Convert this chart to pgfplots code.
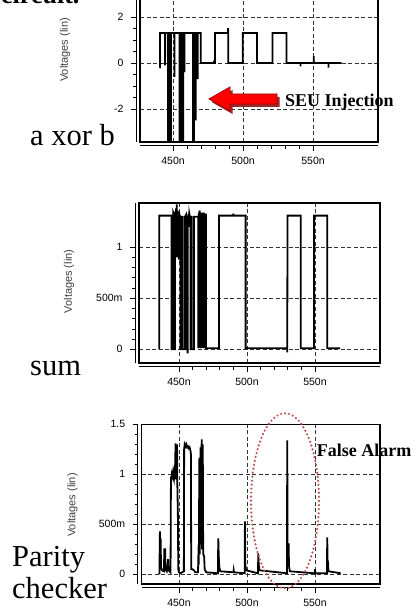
\documentclass[border=0pt]{standalone}
\usepackage{fontspec}
\setmainfont{Liberation Serif}
\setsansfont{Liberation Sans}
\usepackage{pgfplots}
\pgfplotsset{compat=1.18}
\definecolor{ellred}{RGB}{192,80,77}

\pgfplotsset{
 frameax/.style={scale only axis, anchor=south west,
   axis line style={line width=1.2pt},
   grid=major, major grid style={dash pattern=on 4pt off 2.5pt, black!80, line width=0.75pt},
   major tick length=0pt, minor tick length=0pt, xticklabels={}, yticklabels={},
   xtick={450,500,550}},
 stripax/.style={scale only axis, anchor=south west,
   axis x line*=bottom, axis y line*=left,
   axis line style={-, line width=1pt},
   axis x line shift=4pt, axis y line shift=4pt,
   tick align=outside, major tick length=5pt, minor tick length=3pt,
   tick style={black, line width=0.8pt},
   tick label style={font=\fontsize{10.5}{12}\selectfont\sffamily},
   yticklabel style={xshift=-4pt}, xticklabel style={yshift=-3pt},
   xtick={450,500,550}, xticklabels={450n,500n,550n}, minor x tick num=4},
 wave/.style={black, line width=1.8pt, mark=none}
}

\begin{document}
\begin{tikzpicture}[x=1pt,y=1pt]
% ---------------- Panel 1: a xor b
\begin{axis}[frameax, at={(140pt,467pt)}, width=238pt, height=147pt,
  xmin=426.4, xmax=596.4, ymin=-3.435, ymax=2.957, ytick={-2,0,2}]
\addplot[wave] coordinates {
(440.5,-0.2) (440.7,-0.2) (440.7,1.3) (444.3,1.3) (444.3,-0.1) (444.4,1.3)
(446.4,1.3) (446.4,-3.6) (446.9,-3.6) (446.9,1.3) (447.4,1.3) (447.4,-2.4) (447.5,1.3)
(448.3,1.3) (448.3,-3.6) (448.6,-3.6) (448.6,1.3) (451,1.3) (451,-0.6) (451.1,1.3)
(454.6,1.3) (454.6,-3.6) (455.6,-3.6) (455.6,1.3) (456.6,1.3) (456.6,-3.6) (457.3,-3.6) (457.3,1.3)
(458.1,1.3) (458.1,-0.4) (458.2,1.3) (464.2,1.3) (464.2,-3.6) (465.0,-3.6) (465.0,1.3)
(466.2,1.3) (466.2,-2.5) (466.3,1.3) (467.6,1.3) (467.6,-0.7) (467.7,1.3)
(469.8,1.3) (469.8,0) (479.3,0) (479.3,0.1) (479.4,0) (480,0) (480,1.3)
(489.3,1.3) (489.3,1.52) (489.5,1.3) (489.5,0) (499.8,0) (499.8,1.3) (510,1.3) (510,0)
(521,0) (521,1.3) (531,1.3) (531,0) (541,0) (541,-0.15) (541.1,0) (550.5,0) (550.5,0.3)
(550.6,0) (561,0) (561,-0.2) (561.1,0) (570.5,0)
};
\end{axis}
\begin{axis}[stripax, at={(140pt,467pt)}, width=238pt, height=147pt,
  xmin=426.4, xmax=596.4, ymin=-3.435, ymax=2.957, ytick={-2,0,2}, yticklabels={-2,0,2},
  minor y tick num=3]
\end{axis}

% ---------------- Panel 2: sum
\begin{axis}[frameax, at={(139pt,246pt)}, width=241pt, height=160pt,
  xmin=420.6, xmax=597.8, ymin=-0.134, ymax=1.434, ytick={0,0.5,1}]
\addplot[wave] coordinates {
(435.5,0) (435.5,1.31) (444.6,1.31) (444.6,0) (445.8,0) (445.8,1.34) (446.6,1.31) (446.6,0)
(447.0,0) (447.0,1.32) (447.4,1.35) (447.6,0.9) (447.8,1.38) (448.1,1.0) (448.3,1.42)
(448.5,0.9) (448.7,1.33) (448.9,1.0) (449.1,1.36) (449.3,0.92) (449.5,1.3) (449.7,1.05)
(449.9,1.35) (450.1,0.88) (450.3,1.3) (450.5,1.1) (450.8,1.3) (451.2,1.28) (451.2,0)
(451.5,0) (451.5,1.3) (452.7,1.3) (452.7,0) (454.4,0) (454.4,1.3) (455.2,1.32) (455.2,0)
(455.5,0) (455.5,1.3) (456.2,1.3) (456.2,-0.03) (456.5,-0.03) (456.5,1.25) (457,1.33)
(457.3,1.2) (457.6,1.33) (458,1.3) (458.4,1.3) (458.4,0) (458.7,0) (458.7,1.3)
(459.3,1.3) (459.3,0) (461,0) (461,1.3) (464.2,1.3) (464.2,0.02) (464.5,0.02) (464.5,1.33)
(464.8,1.33) (464.8,0.02) (465.1,0.02) (465.1,1.36) (465.4,1.33) (465.4,0.02) (465.7,0.02)
(465.7,1.33) (466.0,1.33) (466.0,0.02) (466.3,0.02) (466.3,1.32) (466.6,1.32) (466.6,0.02)
(466.9,0.02) (466.9,1.33) (467.2,1.33) (467.2,0.02) (467.5,0.02) (467.5,1.31) (467.8,1.31)
(467.8,0.02) (468.1,0.02) (468.1,1.33) (468.4,1.33) (468.4,0.02) (468.7,0.02) (468.7,1.32)
(469.0,1.32) (469.0,0.02) (469.3,0.02) (469.3,1.32) (469.9,1.32) (469.9,0.01)
(479.4,0.01) (479.4,1.31) (490,1.31) (490,1.33) (490.2,1.31) (499,1.31) (499,0.01)
(529.6,0.01) (529.6,-0.03) (529.8,1.31) (539.5,1.31) (539.5,0.01) (549.3,0.01)
(549.3,1.31) (559,1.31) (559,0.01) (568.4,0.01)
};
\end{axis}
\begin{axis}[stripax, at={(139pt,246pt)}, width=241pt, height=160pt,
  xmin=420.6, xmax=597.8, ymin=-0.134, ymax=1.434, ytick={0,0.5,1}, yticklabels={0,500m,1},
  minor y tick num=4]
\end{axis}

% ---------------- Panel 3: Parity checker
\begin{axis}[frameax, at={(141.7pt,25pt)}, width=238.3pt, height=159.7pt,
  xmin=422.6, xmax=597.8, ymin=-0.097, ymax=1.5, ytick={0,0.5,1,1.5}]
\addplot[wave] coordinates {
(435.6,0.0) (436.0,0.43) (436.2,0.05) (436.5,0.36) (436.8,0.08) (437.5,0.04) (439.0,0.03)
(439.2,0.26) (439.4,0.06) (439.8,0.26) (440.0,0.05) (441,0.03) (442.0,0.15) (442.3,0.04)
(443.8,0.02) (444.1,0.97) (444.6,0.97) (444.8,1.0) (445.2,0.98) (445.6,1.02) (446,0.97)
(446.3,0.95) (446.6,1.0) (447.0,0.96) (447.5,1.31) (447.7,0.95) (448.2,1.0) (448.6,1.3)
(448.8,0.9) (449.2,0.6) (449.5,0.05) (450,0.02) (451,0.01) (453.6,0.03) (453.8,1.25)
(454.2,1.30) (454.8,1.28) (455.4,1.30) (456,1.27) (456.6,1.28) (457.2,1.26) (457.8,1.27)
(458.4,1.24) (458.8,1.2) (459.0,0.05) (460,0.05) (461,0.04) (462,0.02) (464.0,0.02)
(464.3,0.2) (464.6,0.18) (465.0,1.16) (465.3,0.2) (465.8,1.27) (466.1,0.3) (466.7,1.35)
(467.0,0.25) (467.5,1.3) (467.8,0.2) (468.5,0.18) (468.9,0.05) (470,0.02) (478.6,0.01)
(478.9,0.36) (479.2,0.2) (479.6,0.08) (480.3,0.03) (490,0.02) (490.2,0.04) (490.4,0.02)
(498.3,0.01) (498.5,0.53) (498.8,0.1) (499.3,0.04) (508.1,0.01) (508.3,0.21) (508.6,0.1)
(509.2,0.04) (529.4,0.01) (529.6,1.34) (529.9,0.1) (530.6,0.31) (530.9,0.08) (531.5,0.03)
(549.8,0.01) (550.0,0.05) (550.3,0.01) (558.8,0.01) (559.0,0.37) (559.3,0.12) (559.6,0.12)
(559.9,0.03) (568.9,0.01)
};
\end{axis}
\begin{axis}[stripax, at={(141.7pt,25pt)}, width=238.3pt, height=159.7pt,
  xmin=422.6, xmax=597.8, ymin=-0.097, ymax=1.5, ytick={0,0.5,1,1.5}, yticklabels={0,500m,1,1.5},
  minor y tick num=4]
\end{axis}

% ---------------- Texts
\node[anchor=base west, inner sep=0pt, font=\fontsize{26}{28}\selectfont\bfseries] at (1pt,605pt) {circuit.};
\node[anchor=base west, inner sep=0pt, font=\fontsize{30.5}{32}\selectfont] at (30pt,463.3pt) {a xor b};
\node[anchor=base west, inner sep=0pt, font=\fontsize{30.5}{32}\selectfont] at (30pt,233.3pt) {sum};
\node[anchor=base west, inner sep=0pt, font=\fontsize{30.5}{32}\selectfont] at (12pt,42.3pt) {Parity};
\node[anchor=base west, inner sep=0pt, font=\fontsize{30.5}{32}\selectfont] at (12pt,10pt) {checker};
\node[rotate=90, font=\fontsize{11}{12}\selectfont\sffamily, text=black!75] at (65pt,559pt) {Voltages (lin)};
\node[rotate=90, font=\fontsize{11}{12}\selectfont\sffamily, text=black!75] at (69pt,327.5pt) {Voltages (lin)};
\node[rotate=90, font=\fontsize{11}{12}\selectfont\sffamily, text=black!75] at (72.5pt,104pt) {Voltages (lin)};
\node[anchor=base west, inner sep=0pt, font=\fontsize{18}{20}\selectfont\bfseries] at (285pt,502pt) {SEU Injection};
\node[anchor=base west, inner sep=0pt, font=\fontsize{18}{20}\selectfont\bfseries] at (316.7pt,152.3pt) {False Alarm};

% red arrow with shadow (tip at x=209, tail at x=277, centre y=510)
\fill[red!55!black!85] (211.5pt,507pt) -- (232.5pt,519pt) -- (232.5pt,512pt) -- (279.5pt,512pt)
  -- (279.5pt,502pt) -- (232.5pt,502pt) -- (232.5pt,495pt) -- cycle;
\filldraw[fill=red, draw=red!65!black, line width=0.8pt] (209pt,510pt) -- (230pt,522pt) -- (230pt,515pt)
  -- (277pt,515pt) -- (277pt,505pt) -- (230pt,505pt) -- (230pt,498pt) -- cycle;

% dotted ellipse
\draw[ellred, line width=2.4pt, line cap=round, dash pattern=on 0pt off 4pt]
  (285pt,108.2pt) ellipse [x radius=34pt, y radius=87.5pt];

\pgfresetboundingbox
\useasboundingbox (0pt,0pt) rectangle (416pt,609pt);
\end{tikzpicture}
\end{document}
